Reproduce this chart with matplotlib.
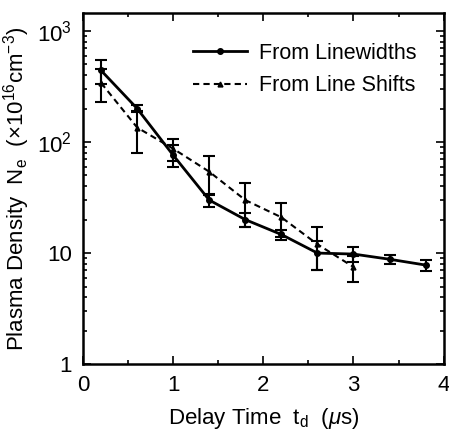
import numpy as np
import matplotlib
matplotlib.use("Agg")
import matplotlib.pyplot as plt
from matplotlib.ticker import FixedLocator, LogLocator, NullFormatter, MultipleLocator

plt.rcParams['font.family'] = ['Liberation Sans', 'DejaVu Sans']
plt.rcParams['mathtext.fontset'] = 'custom'
plt.rcParams['mathtext.rm'] = 'Liberation Sans'
plt.rcParams['mathtext.it'] = 'Liberation Sans:italic'

# delay time (us)
t_lw = [0.2, 0.6, 1.0, 1.4, 1.8, 2.2, 2.6, 3.0, 3.4, 3.8]
ne_lw = [440, 200, 76, 30, 20, 14.7, 10.0, 9.8, 8.8, 7.8]
err_lw = [110, 15, 17, 4, 3, 1.5, 2.9, 1.5, 0.9, 0.9]

t_ls = [0.2, 0.6, 1.0, 1.4, 1.8, 2.2, 2.6, 3.0]
ne_ls = [340, 135, 87, 54, 30, 21, 12, 7.5]
err_ls = [110, 56, 20, 21, 13, 7, 5, 2]

fig = plt.figure(figsize=(4.49, 4.32), dpi=100)
ax = fig.add_axes([0.185, 0.157, 0.803, 0.813])

ax.errorbar(t_lw, ne_lw, yerr=err_lw, color='black', lw=2, marker='o', ms=4,
            capsize=4, elinewidth=1.5, capthick=1.5, label='From Linewidths')
ax.errorbar(t_ls, ne_ls, yerr=err_ls, color='black', lw=1.5, ls=(0, (3, 2)),
            marker='^', ms=3.5, capsize=4, elinewidth=1.5, capthick=1.5,
            label='From Line Shifts')

ax.set_yscale('log')
ax.set_xlim(0, 4)
ax.set_ylim(1, 1450)

ax.xaxis.set_major_locator(MultipleLocator(1))
ax.xaxis.set_minor_locator(MultipleLocator(0.5))
ax.yaxis.set_major_locator(FixedLocator([1, 10, 100, 1000]))
ax.set_yticklabels(['1', '10', '10$^2$', '10$^3$'])
ax.yaxis.set_minor_locator(LogLocator(base=10, subs=np.arange(2, 10)))
ax.yaxis.set_minor_formatter(NullFormatter())

ax.tick_params(which='both', direction='in', top=True, right=True,
               labelsize=16, width=1.2)
ax.tick_params(which='major', length=6, pad=8)
ax.tick_params(which='minor', length=3)
for s in ax.spines.values():
    s.set_linewidth(1.8)

ax.set_xlabel('Delay Time  t$_\\mathregular{d}$  ($\\mu$s)', fontsize=16, labelpad=7)
ax.set_ylabel('Plasma Density  N$_\\mathregular{e}$  ($\\times$10$^{16}$cm$^{-3}$)',
              fontsize=16, labelpad=4)

handles, labels = ax.get_legend_handles_labels()
handles = [h[0] for h in handles]
ax.legend(handles, labels, loc='upper right', bbox_to_anchor=(0.95, 0.94),
          frameon=False, fontsize=15.5, handlelength=2.5, handletextpad=0.6,
          borderaxespad=0.0, labelspacing=0.55)

fig.savefig('out.png', dpi=100)
